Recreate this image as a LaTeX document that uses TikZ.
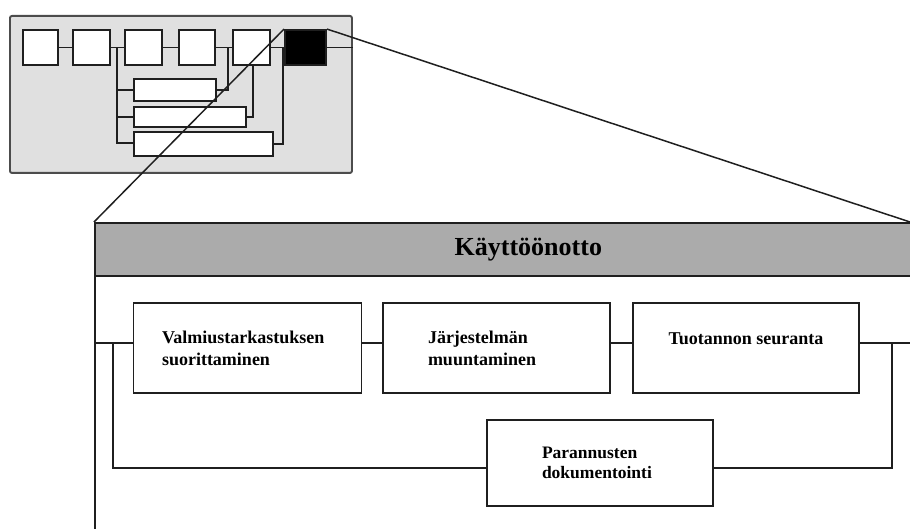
\documentclass[tikz,border=0pt]{standalone}
\usepackage{fontspec}
\setmainfont{Liberation Serif}
\begin{document}
\begin{tikzpicture}[x=1pt,y=-1pt,
  ln/.style={line width=1.7pt, draw=black!88},
  sbox/.style={ln, line width=1.9pt, fill=white, minimum width=#1, minimum height=35pt, inner sep=0pt},
  rbox/.style={ln, line width=1.9pt, fill=white, anchor=north west, inner sep=0pt},
  pbox/.style={ln, fill=white, minimum width=228pt, minimum height=90pt, inner sep=0pt,
     font=\fontsize{18}{22}\selectfont\bfseries},
  con/.style={ln},
  scon/.style={ln, line width=1.9pt}]
\useasboundingbox (0,0) rectangle (910,529);

% ---------- overview ----------
\node[ln, line width=1.9pt, draw=black!70, fill=black!12, rounded corners=2pt, anchor=north west,
      minimum width=342pt, minimum height=157pt, inner sep=0pt] (ov) at (9,15) {};
\node[sbox=35pt] (s1) at (40.5,47.5) {};
\node[sbox=37pt] (s2) at (91.5,47.5) {};
\node[sbox=37pt] (s3) at (143.5,47.5) {};
\node[sbox=36pt] (s4) at (197,47.5) {};
\node[sbox=37pt] (s5) at (251.5,47.5) {};
\node[sbox=41pt, fill=black] (blk) at (305.5,47.5) {};
\node[rbox, minimum width=82pt, minimum height=22pt] (ra) at (133,78) {};
\node[rbox, minimum width=112pt, minimum height=20pt] (rb) at (133,106) {};
\node[rbox, minimum width=139pt, minimum height=24pt] (rc) at (133,131) {};

\draw[scon] (s1) -- (s2);
\draw[scon] (s2) -- (s3);
\draw[scon] (s3) -- (s4);
\draw[scon] (s4) -- (s5);
\draw[scon] (s5) -- (blk);
\draw[scon] (blk.east) -- (blk.east -| ov.east);
\coordinate (b1) at (117,47.5);
\coordinate (b2) at (117,143);
\draw[scon] (b1) -- (b2) -- (rc.west |- b2);
\draw[scon] (ra.west -| b1) -- (ra.west);
\draw[scon] (rb.west -| b1) -- (rb.west);
\coordinate (ca) at (228,47.5);
\coordinate (cb) at (253,65);
\coordinate (cc) at (283,47.5);
\draw[scon] (ra.east) -| (ca);
\draw[scon] (rb.east) -| (cb);
\draw[scon] ([yshift=-0.5pt]rc.east) -| (cc);

% ---------- detail frame ----------
\node[ln, anchor=north west, minimum width=867pt, minimum height=340pt, inner sep=0pt]
  (big) at (94,222) {};
\node[ln, fill=black!33, anchor=north west, minimum width=867pt, minimum height=53pt,
      inner sep=0pt, font=\fontsize{26}{30}\selectfont\bfseries] (hdr) at (94,222) {Käyttöönotto};

\coordinate (zr) at (910,222);
\draw[ln, line width=1.5pt] (blk.north west) -- (big.north west);
\draw[ln, line width=1.5pt] (blk.north east) -- (zr);

% ---------- process boxes ----------
\node[pbox, text width=171pt, align=left] (v) at (247.5,348) {Valmiustarkastuksen\\suorittaminen};
\node[pbox, minimum width=227pt, text width=137pt, align=left] (j) at (496.5,348) {Järjestelmän\\muuntaminen};
\node[pbox, minimum width=226pt, text depth=18pt] (t) at (746,348) {Tuotannon seuranta};
\node[pbox, minimum width=226pt, minimum height=86pt, text width=116pt, align=left,
      font=\fontsize{17.5}{20}\selectfont\bfseries] (p) at (600,463) {Parannusten\\dokumentointi};

\draw[con] ([yshift=5pt]v.west -| big.west) -- ([yshift=5pt]v.west);
\draw[con] ([yshift=5pt]v.east) -- ([yshift=5pt]j.west);
\draw[con] ([yshift=5pt]j.east) -- ([yshift=5pt]t.west);
\draw[con] ([yshift=5pt]t.east) -- ([yshift=5pt]t.east -| big.east);
\coordinate (lb) at (113,343);
\coordinate (rb2) at (892,343);
\draw[con] (lb) |- ([yshift=-5pt]p.west);
\draw[con] (rb2) |- ([yshift=-5pt]p.east);
\end{tikzpicture}
\end{document}
